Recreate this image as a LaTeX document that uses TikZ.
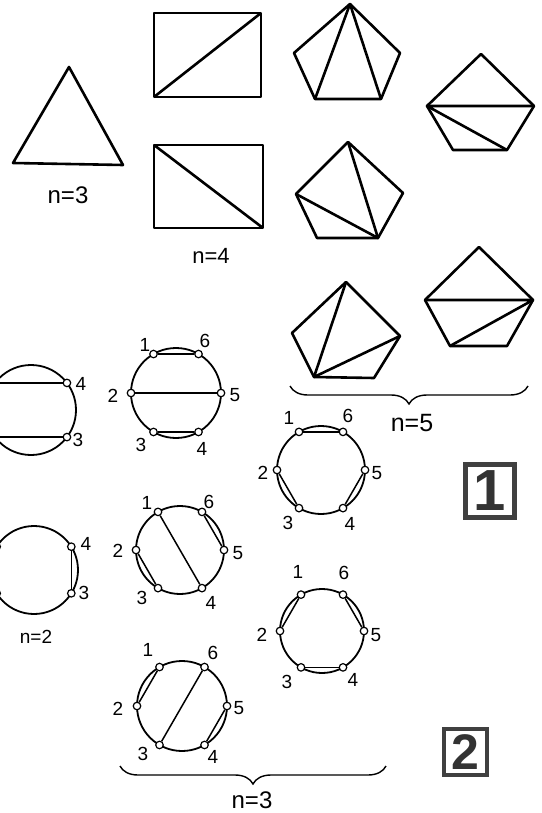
\documentclass[tikz,border=0pt]{standalone}
\usepackage{fontspec}
\setmainfont{Liberation Sans}
\usetikzlibrary{calc,decorations.pathreplacing}
\tikzset{
  poly/.style={line width=2.6pt, line join=round},
  ringline/.style={line width=1.8pt},
  chord/.style={line width=1.5pt},
  vtx/.style={circle, draw, fill=white, line width=1.2pt, inner sep=0pt, minimum size=7.5pt},
  num/.style={font=\fontsize{19}{19}\selectfont, inner sep=0pt},
  nlab/.style={font=\fontsize{24}{24}\selectfont, inner sep=0pt},
  bracestyle/.style={decorate, decoration={brace, mirror, amplitude=18pt}, line width=1.4pt},
  tag/.style={draw=black!75, line width=4.5pt, inner sep=0pt, font=\bfseries\fontsize{58}{58}\selectfont, text=black!80}
}
\newcommand\hexring[4]{%
  \draw[ringline] (#2,#3) circle[radius=#4];
  \foreach \k/\a in {1/120,2/180,3/240,4/300,5/0,6/60}{
    \node[vtx] (#1\k) at ($(#2,#3)+(-\a:#4)$) {};
  }%
}
\begin{document}
\begin{tikzpicture}[x=1pt,y=-1pt]
\useasboundingbox (0,0) rectangle (541,813);
\begin{scope}
\clip (0,0) rectangle (541,813);

% ---- n=3 triangle
\coordinate (t1) at (69,67); \coordinate (t2) at (13,163); \coordinate (t3) at (123,165);
\draw[poly] (t1) -- (t2) -- (t3) -- cycle;
\node[nlab] (l3a) at (68,195) {n=3};

% ---- n=4 rectangles
\coordinate (ra1) at (154,13); \coordinate (ra2) at (261,13); \coordinate (ra3) at (261,97); \coordinate (ra4) at (154,97);
\draw[poly] (ra1) -- (ra2) -- (ra3) -- (ra4) -- cycle;
\draw[poly] (ra4) -- (ra2);
\coordinate (rb1) at (154,145); \coordinate (rb2) at (263,145); \coordinate (rb3) at (263,228); \coordinate (rb4) at (154,228);
\draw[poly] (rb1) -- (rb2) -- (rb3) -- (rb4) -- cycle;
\draw[poly] (rb1) -- (rb3);
\node[nlab, font=\fontsize{22}{22}\selectfont] (l4) at (211,256) {n=4};

% ---- n=5 pentagons
% P1
\coordinate (pa1) at (350,4); \coordinate (pa2) at (294,53); \coordinate (pa3) at (315,99); \coordinate (pa4) at (381,99); \coordinate (pa5) at (400,53);
\draw[poly] (pa1) -- (pa2) -- (pa3) -- (pa4) -- (pa5) -- cycle;
\draw[poly] (pa3) -- (pa1) -- (pa4);
% P2
\coordinate (pb1) at (481,54); \coordinate (pb2) at (427,106); \coordinate (pb3) at (453,150); \coordinate (pb4) at (507,150); \coordinate (pb5) at (534,106);
\draw[poly] (pb1) -- (pb2) -- (pb3) -- (pb4) -- (pb5) -- cycle;
\draw[poly] (pb5) -- (pb2) -- (pb4);
% P3
\coordinate (pc1) at (348,142); \coordinate (pc2) at (296,194); \coordinate (pc3) at (317,238); \coordinate (pc4) at (378,238); \coordinate (pc5) at (403,193);
\draw[poly] (pc1) -- (pc2) -- (pc3) -- (pc4) -- (pc5) -- cycle;
\draw[poly] (pc1) -- (pc4) -- (pc2);
% P4
\coordinate (pd1) at (346,282); \coordinate (pd2) at (292,333); \coordinate (pd3) at (314,377); \coordinate (pd4) at (374,378); \coordinate (pd5) at (400,336);
\draw[poly] (pd1) -- (pd2) -- (pd3) -- (pd4) -- (pd5) -- cycle;
\draw[poly] (pd1) -- (pd3) -- (pd5);
% P5
\coordinate (pe1) at (479,247); \coordinate (pe2) at (425,300); \coordinate (pe3) at (450,346); \coordinate (pe4) at (507,346); \coordinate (pe5) at (533,300);
\draw[poly] (pe1) -- (pe2) -- (pe3) -- (pe4) -- (pe5) -- cycle;
\draw[poly] (pe2) -- (pe5) -- (pe3);
% brace n=5
\coordinate (b5l) at (290,386); \coordinate (b5r) at (528,386);
\draw[bracestyle] (b5l) -- (b5r);
\node[nlab, font=\fontsize{25}{25}\selectfont] (l5) at (412,423) {n=5};

% ---- n=2 circles (cut at left edge)
\draw[ringline] (31,410) circle[radius=45];
\node[vtx] (A1) at ($(31,410)+(-143:45)$) {};
\node[vtx] (A2) at ($(31,410)+(-217:45)$) {};
\node[vtx] (A3) at ($(31,410)+(37:45)$) {};
\node[vtx] (A4) at ($(31,410)+(-37:45)$) {};
\draw[chord] (A1) -- (A4);
\draw[chord] (A2) -- (A3);
\node[num] (A4l) at (81,384) {4};
\node[num] (A3l) at (78,440) {3};

\draw[ringline] (34,570) circle[radius=44];
\node[vtx] (B1) at ($(34,570)+(-148:44)$) {};
\node[vtx] (B2) at ($(34,570)+(148:44)$) {};
\node[vtx] (B3) at ($(34,570)+(32:44)$) {};
\node[vtx] (B4) at ($(34,570)+(-32:44)$) {};
\draw[chord] (B1) -- (B2);
\draw[chord] (B3) -- (B4);
\node[num] (B4l) at (86,544) {4};
\node[num] (B3l) at (84,593) {3};
\node[nlab, font=\fontsize{19}{19}\selectfont] (l2) at (36,637) {n=2};

% ---- n=3 circles
% C
\hexring{C}{176}{393}{45}
\draw[chord] (C1) -- (C6); \draw[chord] (C2) -- (C5); \draw[chord] (C3) -- (C4);
\node[num] at (145,345) {1}; \node[num] at (205,341) {6};
\node[num] at (113,396) {2}; \node[num] at (235,395) {5};
\node[num] at (141,445) {3}; \node[num] at (202,449) {4};
% D
\hexring{D}{321}{470}{44}
\draw[chord] (D1) -- (D6); \draw[chord] (D2) -- (D3); \draw[chord] (D5) -- (D4);
\node[num] at (289,418) {1}; \node[num] at (348,416) {6};
\node[num] at (263,473) {2}; \node[num] at (377,473) {5};
\node[num] at (288,523) {3}; \node[num] at (350,524) {4};
% E
\hexring{E}{180}{550}{44}
\draw[chord] (E1) -- (E4); \draw[chord] (E6) -- (E5); \draw[chord] (E2) -- (E3);
\node[num] at (147,503) {1}; \node[num] at (209,502) {6};
\node[num] at (118,551) {2}; \node[num] at (238,553) {5};
\node[num] at (142,598) {3}; \node[num] at (211,603) {4};
% F
\hexring{F}{322}{631}{42}
\draw[chord] (F1) -- (F2); \draw[chord] (F6) -- (F5); \draw[chord] (F3) -- (F4);
\node[num] at (298,572) {1}; \node[num] at (344,573) {6};
\node[num] at (262,635) {2}; \node[num] at (376,635) {5};
\node[num] at (287,682) {3}; \node[num] at (353,680) {4};
% G
\hexring{G}{182}{706}{45}
\draw[chord] (G1) -- (G2); \draw[chord] (G6) -- (G3); \draw[chord] (G5) -- (G4);
\node[num] at (148,650) {1}; \node[num] at (213,653) {6};
\node[num] at (118,709) {2}; \node[num] at (239,708) {5};
\node[num] at (143,754) {3}; \node[num] at (213,757) {4};
% brace n=3
\coordinate (b3l) at (120,766); \coordinate (b3r) at (386,766);
\draw[bracestyle] (b3l) -- (b3r);
\node[nlab] (l3b) at (252,800) {n=3};

% ---- figure tags
\node[tag, minimum width=49pt, minimum height=53pt] (tag1) at (490,491) {1};
\node[tag, minimum width=43pt, minimum height=46pt, font=\bfseries\fontsize{50}{50}\selectfont] (tag2) at (465.5,752) {2};
\end{scope}
\end{tikzpicture}
\end{document}
